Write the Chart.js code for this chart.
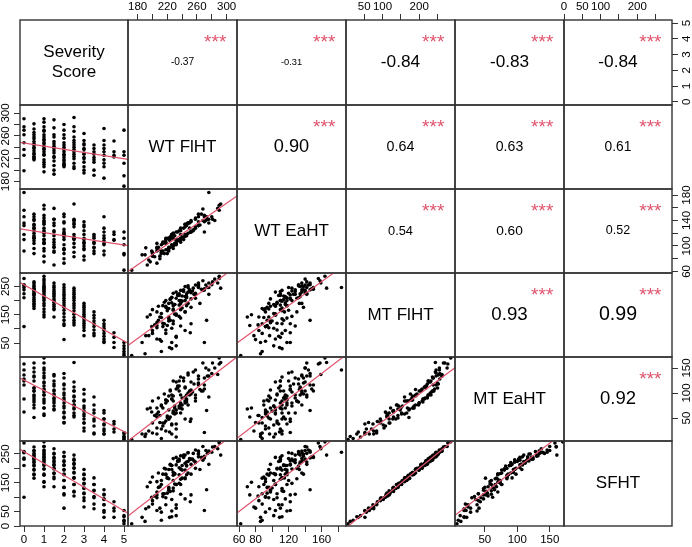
<!DOCTYPE html>
<html>
<head>
<meta charset="utf-8">
<script src="https://cdn.jsdelivr.net/npm/chart.js@4.4.0/dist/chart.umd.min.js"></script>
<style>
  html, body { margin: 0; padding: 0; background: #fff; }
  #grid { position: relative; width: 692px; height: 547px; overflow: hidden; }
  #grid canvas { position: absolute; }
</style>
</head>
<body>
<div id="grid"></div>
<script>
// variable names shown on the diagonal
const varLabels = [['Severity', 'Score'], ['WT FlHT'], ['WT EaHT'], ['MT FlHT'], ['MT EaHT'], ['SFHT']];

// observations, grouped by severity level (one line per level)
const severity = [
  0, 0, 0, 0, 0, 0, 0, 0,
  0.5, 0.5, 0.5, 0.5, 0.5, 0.5, 0.5, 0.5, 0.5, 0.5, 0.5, 0.5, 0.5, 0.5, 0.5, 0.5, 0.5, 0.5,
  1, 1, 1, 1, 1, 1, 1, 1, 1, 1, 1, 1, 1, 1, 1, 1, 1, 1, 1, 1, 1, 1,
  1.5, 1.5, 1.5, 1.5, 1.5, 1.5, 1.5, 1.5, 1.5, 1.5, 1.5, 1.5, 1.5, 1.5, 1.5, 1.5,
  2, 2, 2, 2, 2, 2, 2, 2, 2, 2, 2, 2, 2, 2, 2, 2, 2, 2,
  2.5, 2.5, 2.5, 2.5, 2.5, 2.5, 2.5, 2.5, 2.5, 2.5, 2.5, 2.5, 2.5, 2.5, 2.5, 2.5,
  3, 3, 3, 3, 3, 3, 3, 3, 3, 3, 3, 3, 3, 3,
  3.5, 3.5, 3.5, 3.5, 3.5, 3.5, 3.5, 3.5, 3.5,
  4, 4, 4, 4, 4, 4, 4, 4, 4, 4,
  4.5, 4.5, 4.5, 4.5,
  5, 5, 5, 5, 5, 5
];
const wtFlht = [
  290, 262, 248, 270, 236, 226, 276, 199,
  281, 262, 272, 244, 255, 266, 238, 250, 228, 258, 234, 246, 224, 240, 222, 230, 218, 220,
  290, 284, 268, 276, 258, 262, 248, 270, 242, 254, 232, 246, 236, 226, 252, 218, 238, 214, 228, 206, 197, 210,
  288, 262, 274, 250, 242, 258, 234, 246, 224, 238, 216, 230, 208, 222, 200, 193,
  280, 262, 270, 248, 256, 240, 232, 244, 226, 236, 218, 228, 212, 222, 208, 216, 206, 210,
  292, 268, 252, 276, 244, 258, 236, 248, 228, 240, 220, 232, 212, 224, 206, 203,
  264, 246, 252, 238, 244, 230, 236, 222, 228, 214, 220, 206, 200, 195,
  244, 232, 238, 222, 228, 214, 218, 200, 191,
  273, 252, 238, 226, 244, 218, 232, 206, 212, 186,
  251, 232, 226, 223,
  270, 232, 226, 212, 190, 172
];
const wtEaht = [
  156, 132, 136, 146, 110, 118, 184, 92,
  142, 146, 140, 134, 124, 150, 112, 128, 120, 128, 108, 132, 114, 112, 96, 116, 104, 88,
  164, 140, 158, 136, 144, 138, 120, 148, 128, 124, 104, 134, 110, 116, 122, 110, 106, 104, 96, 92, 75, 84,
  159, 132, 142, 136, 110, 142, 122, 116, 98, 124, 106, 102, 98, 92, 90, 70,
  146, 150, 138, 136, 126, 114, 122, 118, 116, 110, 94, 120, 102, 96, 94, 88, 73, 80,
  166, 140, 140, 142, 134, 130, 110, 136, 118, 112, 112, 104, 90, 114, 98, 83,
  133, 118, 138, 110, 130, 104, 124, 112, 100, 106, 94, 96, 84, 78,
  115, 104, 118, 98, 112, 92, 106, 88, 97,
  146, 122, 128, 102, 116, 112, 108, 104, 92, 86,
  122, 110, 118, 109,
  122, 102, 112, 88, 86, 62
];
const mtFlht = [
  278, 256, 252, 238, 224, 210, 246, 108,
  266, 262, 255, 250, 244, 240, 236, 232, 226, 222, 218, 210, 204, 198, 190, 186, 180, 172,
  286, 276, 270, 262, 255, 250, 246, 242, 238, 234, 230, 224, 218, 212, 206, 200, 190, 182, 170, 160, 150, 142,
  262, 252, 246, 238, 232, 226, 220, 214, 206, 200, 194, 186, 180, 172, 168, 142,
  256, 246, 238, 230, 222, 216, 208, 200, 192, 184, 176, 166, 154, 142, 130, 118, 112, 62,
  244, 236, 228, 222, 214, 208, 200, 190, 182, 174, 164, 152, 140, 130, 122, 114,
  190, 182, 176, 168, 160, 152, 144, 136, 128, 120, 112, 104, 94, 76,
  160, 148, 138, 128, 118, 108, 96, 84, 76,
  130, 118, 110, 102, 94, 84, 74, 64, 56, 52,
  86, 70, 52, 34,
  52, 40, 30, 20, 12, 6
];
const mtEaht = [
  158, 128, 136, 116, 124, 88, 146, 62,
  160, 134, 150, 110, 142, 104, 132, 96, 124, 90, 110, 82, 104, 76, 94, 70, 86, 51,
  170, 150, 160, 134, 146, 120, 140, 108, 130, 102, 122, 96, 114, 88, 106, 80, 96, 70, 84, 58, 70, 55,
  137, 118, 134, 104, 124, 96, 114, 88, 106, 80, 98, 74, 90, 66, 84, 68,
  139, 116, 130, 100, 118, 90, 108, 80, 96, 70, 86, 60, 74, 50, 62, 40, 52, 41,
  161, 104, 122, 92, 112, 84, 104, 76, 94, 68, 84, 60, 76, 52, 70, 55,
  107, 86, 98, 70, 84, 58, 74, 48, 64, 40, 54, 30, 40, 24,
  92, 66, 76, 48, 60, 34, 44, 20, 18,
  65, 48, 60, 36, 48, 24, 38, 18, 28, 18,
  43, 28, 38, 22,
  21, 12, 18, 9, 13, 7
];
const sfht = [
  288, 258, 254, 236, 232, 210, 256, 100,
  274, 260, 262, 246, 252, 238, 244, 230, 234, 220, 224, 208, 212, 194, 196, 180, 178, 166,
  292, 276, 276, 260, 264, 250, 254, 240, 246, 232, 238, 222, 226, 210, 214, 198, 198, 180, 176, 154, 152, 136,
  268, 250, 252, 234, 238, 222, 226, 210, 214, 198, 200, 182, 184, 164, 170, 136,
  256, 240, 242, 224, 226, 210, 212, 194, 196, 178, 180, 158, 158, 134, 134, 112, 108, 62,
  246, 228, 232, 214, 218, 200, 202, 184, 186, 166, 168, 144, 144, 120, 118, 104,
  196, 178, 180, 162, 164, 146, 148, 130, 132, 112, 114, 98, 88, 66,
  167, 144, 144, 124, 122, 102, 98, 76, 60,
  126, 108, 110, 92, 94, 74, 74, 54, 48, 30,
  84, 62, 52, 30,
  54, 36, 32, 20, 16, 8
];

// printed correlations (upper triangle, row by row) and their significance marks
const corrValues = [-0.37, -0.31, -0.84, -0.83, -0.84, 0.90, 0.64, 0.63, 0.61, 0.54, 0.60, 0.52, 0.93, 0.99, 0.92];
const corrStars = ['***', '***', '***', '***', '***', '***', '***', '***', '***', '***', '***', '***', '***', '***', '***'];

// axis ticks per variable, and which of them carry a label
const tickValues = [
  [0, 1, 2, 3, 4, 5],
  [180, 200, 220, 240, 260, 280, 300],
  [60, 80, 100, 120, 140, 160, 180],
  [50, 100, 150, 200, 250],
  [50, 100, 150],
  [0, 50, 100, 150, 200, 250]
];
const xTickLabels = [[0, 1, 2, 3, 4, 5], [180, 220, 260, 300], [60, 80, 120, 160], [50, 100, 200], [50, 100, 150], [0, 50, 100, 200]];
const yTickLabels = [[0, 1, 2, 3, 4, 5], [180, 220, 260, 300], [60, 100, 140, 180], [50, 150, 250], [50, 100, 150], [0, 50, 150, 250]];

const series = [severity, wtFlht, wtEaht, mtFlht, mtEaht, sfht];
const axisRanges = [[-0.2, 5.2], [167, 314], [57.5, 189.5], [0.5, 297.5], [4, 172], [0, 295]];

// layout
const FONT = "'Liberation Sans', Arial, Helvetica, sans-serif";
const RED = '#DF536B';
const M = 24;
const TICK = 6;
const TICK_FONT = 11.5;
const colEdges = [20, 128, 237, 346, 455, 564, 672];
const rowEdges = [20, 105, 189, 273, 357, 441, 526];

Chart.defaults.font.family = FONT;

const measureCtx = document.createElement('canvas').getContext('2d');
measureCtx.font = TICK_FONT + 'px ' + FONT;
function widestLabel(vals) {
  return Math.max(...vals.map(v => measureCtx.measureText(String(v)).width));
}

function fitLine(xs, ys) {
  const n = xs.length;
  const mx = xs.reduce((s, v) => s + v, 0) / n;
  const my = ys.reduce((s, v) => s + v, 0) / n;
  let sxy = 0, sxx = 0;
  for (let k = 0; k < n; k++) {
    sxy += (xs[k] - mx) * (ys[k] - my);
    sxx += (xs[k] - mx) * (xs[k] - mx);
  }
  const b = sxy / sxx;
  return { a: my - b * mx, b };
}

function makeScale(v, horizontal, position, show) {
  const [lo, hi] = axisRanges[v];
  const scale = { type: 'linear', min: lo, max: hi, bounds: 'data', position, display: show };
  if (!show) return scale;
  const labelled = horizontal ? xTickLabels[v] : yTickLabels[v];
  let padding;
  if (horizontal) {
    padding = position === 'top' ? 13.5 - TICK - TICK_FONT * 0.6 : 14 - TICK - TICK_FONT * 0.6;
  } else {
    const half = widestLabel(labelled) / 2;
    padding = position === 'left' ? 14 - TICK - half : 15 - TICK - half;
  }
  return Object.assign(scale, {
    grid: { display: true, drawOnChartArea: false, drawTicks: true, tickLength: TICK, color: '#333', lineWidth: 1 },
    border: { display: false },
    ticks: {
      autoSkip: false,
      color: '#000',
      font: { size: TICK_FONT },
      padding,
      minRotation: horizontal ? 0 : 90,
      maxRotation: horizontal ? 0 : 90,
      crossAlign: horizontal ? 'near' : 'center',
      callback: val => labelled.includes(val) ? String(val) : ''
    },
    afterBuildTicks: s => { s.ticks = tickValues[v].map(t => ({ value: t })); },
    afterFit: s => {
      if (horizontal) s.height = M; else s.width = M;
      s.paddingLeft = s.paddingRight = s.paddingTop = s.paddingBottom = 0;
    }
  });
}

const panelPlugin = {
  id: 'panel',
  afterDraw(chart, args, opts) {
    const { ctx, chartArea: a } = chart;
    const w = a.right - a.left, h = a.bottom - a.top;
    ctx.save();
    ctx.textAlign = 'center';
    if (opts.kind === 'diag') {
      ctx.fillStyle = '#000';
      ctx.font = '17px ' + FONT;
      ctx.textBaseline = 'middle';
      const lines = opts.lines;
      lines.forEach((t, k) => {
        ctx.fillText(t, a.left + w / 2, a.top + h / 2 + (k - (lines.length - 1) / 2) * 20);
      });
    } else if (opts.kind === 'upper') {
      const r = opts.r;
      ctx.fillStyle = '#000';
      ctx.font = (15.2 * (Math.abs(r) + 0.3)).toFixed(1) + 'px ' + FONT;
      ctx.textBaseline = 'middle';
      ctx.fillText(r.toFixed(2), a.left + w / 2, a.top + h / 2);
      const fs = 19;
      ctx.fillStyle = RED;
      ctx.font = fs + 'px ' + FONT;
      ctx.textBaseline = 'alphabetic';
      ctx.fillText(opts.stars, a.left + 0.8 * w, a.top + 0.2 * h + 0.57 * fs);
    }
    ctx.strokeStyle = '#333';
    ctx.lineWidth = 1.4;
    ctx.strokeRect(a.left, a.top, w, h);
    ctx.restore();
  }
};

const grid = document.getElementById('grid');
let upperIdx = 0;
for (let i = 0; i < 6; i++) {
  for (let j = 0; j < 6; j++) {
    const L = colEdges[j], R = colEdges[j + 1], T = rowEdges[i], B = rowEdges[i + 1];
    const cv = document.createElement('canvas');
    cv.width = R - L + 2 * M;
    cv.height = B - T + 2 * M;
    cv.style.left = (L - M) + 'px';
    cv.style.top = (T - M) + 'px';
    grid.appendChild(cv);

    const hasTop = i === 0 && j % 2 === 1;
    const hasBottom = i === 5 && j % 2 === 0;
    const hasLeft = j === 0 && i % 2 === 1;
    const hasRight = j === 5 && i % 2 === 0;

    const datasets = [];
    let panel;
    if (i > j) {
      const xs = series[j], ys = series[i];
      const fit = fitLine(xs, ys);
      const [x0, x1] = axisRanges[j];
      datasets.push({
        type: 'line',
        data: [{ x: x0, y: fit.a + fit.b * x0 }, { x: x1, y: fit.a + fit.b * x1 }],
        borderColor: RED,
        borderWidth: 1.2,
        pointRadius: 0,
        fill: false,
        clip: 0,
        order: 0
      });
      datasets.push({
        data: xs.map((x, k) => ({ x, y: ys[k] })),
        backgroundColor: '#000',
        borderWidth: 0,
        pointRadius: 1.8,
        order: 1
      });
      panel = { kind: 'lower' };
    } else if (i === j) {
      panel = { kind: 'diag', lines: varLabels[i] };
    } else {
      panel = { kind: 'upper', r: corrValues[upperIdx], stars: corrStars[upperIdx] };
      upperIdx++;
    }

    new Chart(cv, {
      type: 'scatter',
      data: { datasets },
      options: {
        responsive: false,
        maintainAspectRatio: false,
        animation: false,
        events: [],
        layout: {
          padding: {
            top: hasTop ? 0 : M,
            bottom: hasBottom ? 0 : M,
            left: hasLeft ? 0 : M,
            right: hasRight ? 0 : M
          }
        },
        scales: {
          x: makeScale(j, true, hasTop ? 'top' : 'bottom', hasTop || hasBottom),
          y: makeScale(i, false, hasRight ? 'right' : 'left', hasLeft || hasRight)
        },
        plugins: {
          legend: { display: false },
          tooltip: { enabled: false },
          panel
        }
      },
      plugins: [panelPlugin]
    });
  }
}
</script>
</body>
</html>
